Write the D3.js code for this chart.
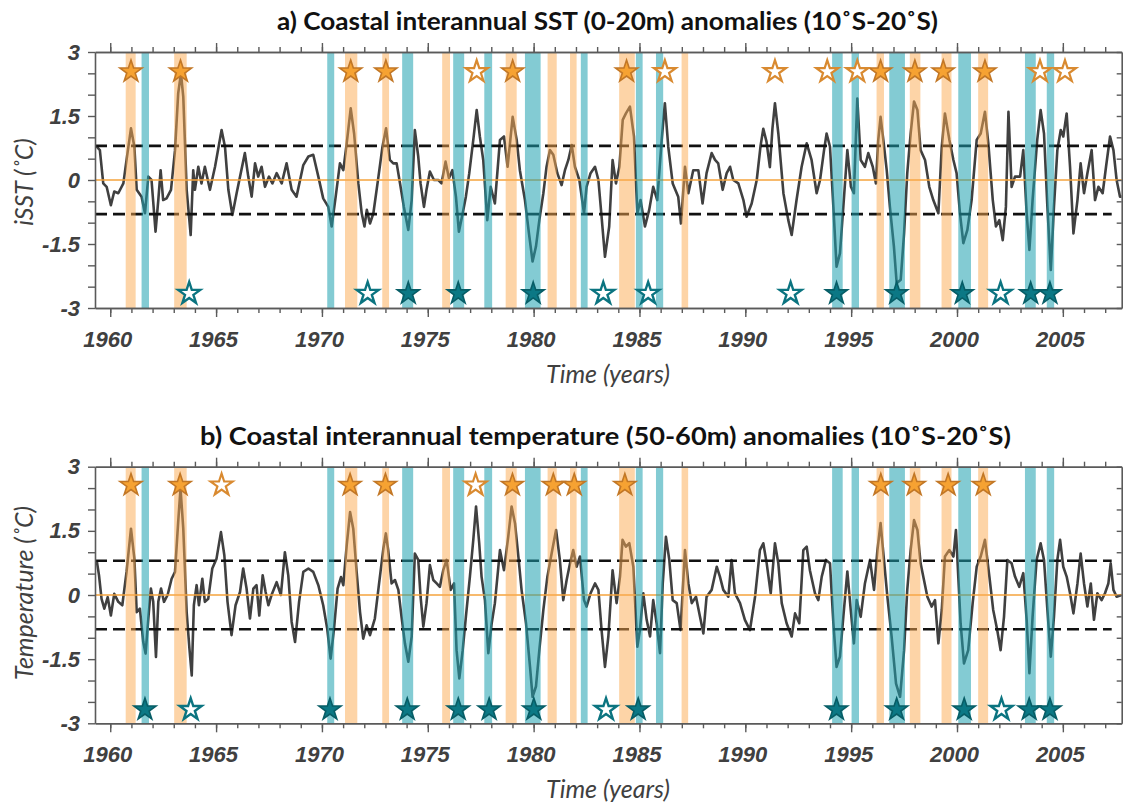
<!DOCTYPE html>
<html>
<head>
<meta charset="utf-8">
<script src="https://cdn.jsdelivr.net/npm/d3@7"></script>
<style>
  body { margin: 0; background: #fff; }
  svg { display: block; font-family: Lato, "Open Sans", sans-serif; }
</style>
</head>
<body>
<svg id="chart" width="1125" height="802"></svg>
<script>
// warm (orange) and cold (cyan) event periods, same in both panels
const warmBands = [[1960.73,1961.2],[1963.02,1963.61],[1971.09,1971.67],[1972.85,1973.17],[1975.68,1976.05],
  [1978.68,1979.2],[1980.66,1981.09],[1981.72,1982.03],[1984.04,1984.78],[1986.99,1987.3],
  [1996.2,1996.55],[1997.77,1998.27],[1999.27,1999.74],[2001.0,2001.47]];
const coldBands = [[1961.48,1961.83],[1970.25,1970.58],[1973.79,1974.31],[1976.2,1976.72],[1977.67,1978.04],
  [1979.59,1980.33],[1982.23,1982.55],[1984.83,1985.15],[1985.78,1986.12],[1994.1,1994.6],
  [1995.02,1995.37],[1996.8,1997.54],[2000.06,2000.66],[2003.21,2003.72],[2004.24,2004.59]];

// panel a : iSST (0-20m), [year, degC]
const sstSeries = [
  [1959.36,0.78],[1959.51,0.7],[1959.67,-0.08],[1959.83,-0.16],[1960.03,-0.59],[1960.19,-0.27],[1960.38,-0.31],
  [1960.62,-0.08],[1960.77,0.47],[1960.98,1.21],[1961.14,0.78],[1961.25,-0.23],[1961.48,-0.39],[1961.64,-0.78],
  [1961.8,0.08],[1961.95,0],[1962.14,-1.21],[1962.27,-0.47],[1962.38,0.23],[1962.5,-0.47],[1962.66,-0.43],
  [1962.87,-0.23],[1963.06,0.7],[1963.21,2.03],[1963.34,2.5],[1963.45,1.95],[1963.61,-0.23],[1963.8,-1.29],
  [1963.92,0.23],[1964.0,-0.23],[1964.16,0.31],[1964.31,-0.08],[1964.47,0.31],[1964.71,-0.23],[1964.95,0.31],
  [1965.26,1.17],[1965.42,0.78],[1965.58,-0.23],[1965.77,-0.82],[1965.97,-0.31],[1966.36,0.63],[1966.52,0.08],
  [1966.68,-0.39],[1966.84,0.39],[1966.99,0.08],[1967.15,0.31],[1967.31,-0.16],[1967.5,0.08],[1967.66,-0.08],
  [1967.86,0.16],[1968.1,-0.08],[1968.33,0.39],[1968.57,-0.23],[1968.8,-0.39],[1969.12,0.35],[1969.36,0.55],
  [1969.59,0.59],[1969.83,0.08],[1970.06,-0.43],[1970.3,-0.63],[1970.46,-1.09],[1970.65,-0.39],[1970.85,0.39],
  [1971.01,0.23],[1971.17,0.86],[1971.36,1.68],[1971.52,1.09],[1971.72,-0.08],[1971.88,-0.78],[1972.01,-1.09],
  [1972.12,-0.7],[1972.27,-1.02],[1972.43,-0.78],[1972.67,0.08],[1972.86,0.78],[1973.03,1.21],[1973.21,0.47],
  [1973.37,0.39],[1973.53,0.39],[1973.69,-0.08],[1973.87,-0.63],[1974.08,-1.17],[1974.24,-0.47],[1974.39,1.17],
  [1974.55,0.55],[1974.66,-0.08],[1974.82,-0.63],[1974.94,-0.23],[1975.1,0.2],[1975.29,0],[1975.5,0],
  [1975.65,-0.08],[1975.84,0.43],[1976.0,0.04],[1976.16,0.23],[1976.33,-0.39],[1976.47,-1.21],[1976.65,-0.78],
  [1976.8,-0.39],[1976.96,0.16],[1977.15,0.94],[1977.31,1.64],[1977.46,1.02],[1977.62,0.47],[1977.81,-0.94],
  [1977.97,-0.16],[1978.17,-0.55],[1978.41,0.94],[1978.6,1.02],[1978.77,0.31],[1979.01,1.48],[1979.2,0.94],
  [1979.35,0.23],[1979.59,-0.47],[1979.78,-1.25],[1979.95,-1.91],[1980.11,-1.56],[1980.27,-0.94],[1980.46,-0.31],
  [1980.61,0.31],[1980.77,0.7],[1980.93,0.59],[1981.12,0.16],[1981.32,-0.12],[1981.48,0.23],[1981.64,0.47],
  [1981.8,0.82],[1981.95,0.31],[1982.16,0],[1982.38,-0.78],[1982.5,-0.16],[1982.69,0.16],[1982.9,0.31],
  [1983.06,0],[1983.21,-0.86],[1983.37,-1.8],[1983.57,-1.09],[1983.73,0.47],[1983.89,-0.08],[1984.05,0.31],
  [1984.21,1.41],[1984.36,1.56],[1984.55,1.72],[1984.74,1.02],[1984.9,-0.78],[1985.05,-0.47],[1985.26,-1.09],
  [1985.46,-0.7],[1985.65,-0.16],[1985.84,-0.47],[1986.05,0.94],[1986.2,1.8],[1986.36,0.78],[1986.57,-0.08],
  [1986.83,-0.39],[1986.96,-1.02],[1987.15,0.31],[1987.31,-0.31],[1987.54,0.23],[1987.78,0.23],[1987.98,-0.55],
  [1988.17,0.16],[1988.41,0.63],[1988.57,0.47],[1988.72,0.39],[1988.93,-0.23],[1989.12,0.16],[1989.28,0.31],
  [1989.43,0],[1989.67,-0.08],[1989.91,-0.47],[1990.06,-0.86],[1990.3,-0.55],[1990.54,0],[1990.72,0.8],
  [1990.85,1.2],[1991.0,0.9],[1991.16,0.3],[1991.28,1.2],[1991.4,1.8],[1991.56,1.09],[1991.8,-0.31],
  [1992.03,-0.94],[1992.19,-1.29],[1992.42,-0.47],[1992.66,0.31],[1992.9,0.86],[1993.13,0.47],[1993.37,-0.31],
  [1993.53,0],[1993.72,0.7],[1993.84,1.09],[1994.0,0.78],[1994.16,-0.63],[1994.31,-2.03],[1994.47,-1.72],
  [1994.63,-0.63],[1994.82,0.7],[1994.99,-0.16],[1995.13,-0.31],[1995.29,1.91],[1995.45,0.47],[1995.65,0.31],
  [1995.81,0.63],[1996.02,0.31],[1996.17,-0.08],[1996.28,0.94],[1996.39,1.48],[1996.52,0.94],[1996.68,0.23],
  [1996.83,-0.63],[1997.02,-1.56],[1997.15,-2.42],[1997.34,-2.34],[1997.5,-1.25],[1997.65,0.16],[1997.81,1.09],
  [1997.97,1.84],[1998.13,1.64],[1998.28,0.7],[1998.49,0.47],[1998.69,-0.16],[1998.88,-0.47],[1999.12,-0.78],
  [1999.28,0.78],[1999.43,1.56],[1999.64,0.94],[1999.83,0.47],[1999.98,0.16],[2000.14,-0.78],[2000.3,-1.48],
  [2000.49,-1.17],[2000.69,-0.47],[2000.93,0.94],[2001.12,1.09],[2001.32,1.6],[2001.48,0.86],[2001.69,-0.47],
  [2001.84,-1.09],[2002.0,-0.94],[2002.16,-1.41],[2002.31,-0.63],[2002.43,1.6],[2002.58,-0.16],[2002.74,0.08],
  [2002.98,0.08],[2003.13,0.7],[2003.29,-0.78],[2003.42,-1.64],[2003.57,-0.47],[2003.79,0.94],[2003.95,1.64],
  [2004.11,1.09],[2004.27,-0.63],[2004.43,-2.11],[2004.58,-0.63],[2004.74,0.7],[2004.9,1.17],[2005.02,1.02],
  [2005.18,1.56],[2005.34,0.31],[2005.5,-1.25],[2005.69,-0.47],[2005.84,0.39],[2006.0,-0.31],[2006.16,0.16],
  [2006.36,0.7],[2006.52,-0.47],[2006.68,-0.16],[2006.88,-0.31],[2007.04,0.31],[2007.23,1.02],[2007.39,0.7],
  [2007.54,0],[2007.7,-0.39],[2007.78,-0.39]
];

// panel b : temperature (50-60m), [year, degC]
const tempSeries = [
  [1959.36,0.81],[1959.47,0.46],[1959.59,-0.09],[1959.72,-0.32],[1959.88,-0.05],[1960.03,-0.48],[1960.19,0.03],
  [1960.38,-0.16],[1960.57,-0.24],[1960.77,0.54],[1960.98,1.55],[1961.14,0.85],[1961.25,-0.4],[1961.4,-0.32],
  [1961.56,-1.1],[1961.67,-1.37],[1961.8,-0.55],[1961.92,0.15],[1962.03,-0.16],[1962.16,-1.45],[1962.27,-0.16],
  [1962.4,0.15],[1962.54,-0.16],[1962.71,0],[1962.9,0.38],[1963.06,0.54],[1963.21,1.71],[1963.32,2.49],
  [1963.45,1.55],[1963.61,-0.4],[1963.74,-1.25],[1963.85,-1.88],[1963.95,-0.24],[1964.08,0.23],[1964.19,-0.24],
  [1964.35,0.38],[1964.47,-0.16],[1964.63,-0.09],[1964.82,0.62],[1965.02,0.85],[1965.23,1.47],[1965.39,0.93],
  [1965.54,-0.16],[1965.73,-0.94],[1965.92,-0.24],[1966.13,0.07],[1966.28,0.62],[1966.44,0.15],[1966.6,-0.55],
  [1966.76,0.15],[1966.91,0.23],[1967.04,-0.48],[1967.2,0.46],[1967.34,0.07],[1967.47,-0.24],[1967.62,0],
  [1967.86,0.3],[1968.06,0],[1968.25,1.0],[1968.41,0.46],[1968.57,-0.63],[1968.73,-1.1],[1968.92,-0.16],
  [1969.12,0.54],[1969.36,0.62],[1969.59,0.54],[1969.83,0.23],[1970.06,-0.24],[1970.25,-0.79],[1970.41,-1.49],
  [1970.57,-0.79],[1970.74,0.15],[1970.9,0.42],[1971.01,0.23],[1971.17,1.16],[1971.33,1.94],[1971.48,1.55],
  [1971.64,0.54],[1971.8,-0.4],[1971.95,-1.02],[1972.11,-0.71],[1972.27,-0.94],[1972.5,-0.55],[1972.69,0.23],
  [1972.9,1.08],[1973.02,1.44],[1973.13,1.05],[1973.29,0.27],[1973.45,0.35],[1973.61,0.12],[1973.76,-0.51],
  [1973.92,-1.13],[1974.08,-1.56],[1974.24,-0.97],[1974.39,0.97],[1974.55,0.82],[1974.66,-0.04],[1974.79,-0.74],
  [1974.94,-0.19],[1975.1,0.7],[1975.26,0.35],[1975.42,0.27],[1975.57,0.19],[1975.73,0.58],[1975.89,0.82],
  [1976.08,0.12],[1976.24,0.27],[1976.36,-1.29],[1976.49,-1.95],[1976.65,-1.29],[1976.8,-0.51],[1976.99,0.43],
  [1977.15,1.29],[1977.28,2.07],[1977.43,1.21],[1977.54,0.43],[1977.7,-0.12],[1977.86,-1.36],[1978.02,-0.66],
  [1978.17,-0.19],[1978.41,1.05],[1978.6,0.58],[1978.8,1.36],[1978.96,2.07],[1979.12,1.68],[1979.28,0.9],
  [1979.43,0.12],[1979.64,-0.66],[1979.83,-1.68],[1979.95,-2.38],[1980.11,-2.14],[1980.27,-1.29],[1980.46,-0.35],
  [1980.65,0.43],[1980.85,0.97],[1981.06,1.52],[1981.24,0.82],[1981.4,-0.12],[1981.56,0.35],[1981.72,0.74],
  [1981.87,1.05],[1982.03,0.66],[1982.19,0.9],[1982.38,-0.12],[1982.5,-0.27],[1982.69,0.04],[1982.9,0.27],
  [1983.06,0.12],[1983.21,-0.82],[1983.37,-1.68],[1983.53,-0.97],[1983.73,0.58],[1983.92,-0.19],[1984.08,0.43],
  [1984.2,1.29],[1984.36,1.13],[1984.52,1.21],[1984.71,0.66],[1984.9,-1.21],[1985.02,-0.82],[1985.18,0.04],
  [1985.34,-0.58],[1985.5,-0.97],[1985.65,-0.12],[1985.81,-0.66],[1985.97,-1.36],[1986.1,0.27],[1986.25,1.36],
  [1986.41,0.82],[1986.57,-0.12],[1986.76,-0.19],[1986.94,-0.82],[1987.15,1.05],[1987.31,0.27],[1987.47,-0.19],
  [1987.67,-0.04],[1987.86,-0.51],[1988.02,-0.9],[1988.17,-0.04],[1988.41,0.12],[1988.65,0.66],[1988.8,0.43],
  [1988.96,0.12],[1989.2,-0.04],[1989.35,0.82],[1989.51,0.04],[1989.75,-0.19],[1989.98,-0.58],[1990.22,-0.82],
  [1990.46,-0.04],[1990.69,1.05],[1990.85,1.21],[1991.01,0.74],[1991.2,0.04],[1991.4,1.21],[1991.56,0.74],
  [1991.72,-0.19],[1991.95,-0.66],[1992.19,-0.97],[1992.35,-0.43],[1992.55,-0.66],[1992.74,1.05],[1992.9,1.13],
  [1993.05,0.58],[1993.29,0.04],[1993.45,-0.12],[1993.61,0.43],[1993.81,0.82],[1994.0,0.74],[1994.16,-0.66],
  [1994.31,-1.68],[1994.47,-1.44],[1994.63,-0.51],[1994.82,0.55],[1994.98,-0.35],[1995.13,-1.13],[1995.26,-0.12],
  [1995.45,-0.51],[1995.65,0.27],[1995.89,0.82],[1996.08,0.12],[1996.24,1.05],[1996.39,1.68],[1996.55,0.82],
  [1996.71,-0.04],[1996.91,-0.97],[1997.12,-2.07],[1997.31,-2.38],[1997.5,-1.29],[1997.65,0.12],[1997.81,1.05],
  [1997.97,1.75],[1998.13,1.52],[1998.28,0.74],[1998.44,0.35],[1998.6,-0.04],[1998.8,-0.27],[1998.96,-0.12],
  [1999.12,-1.13],[1999.28,-0.35],[1999.43,0.9],[1999.64,1.05],[1999.83,0.9],[1999.95,1.52],[2000.06,0.43],
  [2000.17,-0.66],[2000.33,-1.6],[2000.53,-1.29],[2000.74,-0.19],[2000.93,0.66],[2001.12,0.9],[2001.32,1.29],
  [2001.53,0.43],[2001.71,-0.35],[2001.9,-0.82],[2002.06,-1.29],[2002.22,-0.51],[2002.38,0.82],[2002.58,0.74],
  [2002.74,0.43],[2002.94,0.19],[2003.13,0.51],[2003.29,-0.58],[2003.42,-1.83],[2003.57,-0.51],[2003.76,0.82],
  [2003.95,1.21],[2004.11,0.82],[2004.27,-0.35],[2004.43,-1.44],[2004.58,-0.51],[2004.74,0.82],[2004.87,1.29],
  [2005.02,0.66],[2005.18,0.43],[2005.34,0.04],[2005.5,-0.43],[2005.69,0.27],[2005.84,0.97],[2006.0,0.27],
  [2006.16,-0.27],[2006.32,0.27],[2006.47,-0.58],[2006.63,0.04],[2006.83,-0.12],[2006.99,0.04],[2007.15,0.27],
  [2007.26,0.74],[2007.39,0.12],[2007.54,-0.04],[2007.78,0]
];

// star markers (year of the event)
const sstWarmFilled = [1960.98,1963.32,1971.36,1973.02,1979.01,1984.39,1996.39,1998.01,1999.35,2001.32];
const sstWarmOpen   = [1977.31,1986.2,1991.4,1993.87,1995.29,2003.92,2005.1];
const sstColdFilled = [1974.08,1976.44,1979.98,1994.31,1997.15,2000.25,2003.48,2004.39];
const sstColdOpen   = [1963.73,1972.16,1983.29,1985.41,1992.14,2002.06];

const tempWarmFilled = [1960.98,1963.3,1971.33,1973.0,1979.0,1980.93,1981.92,1984.31,1996.4,1997.98,1999.58,2001.24];
const tempWarmOpen   = [1965.26,1977.26];
const tempColdFilled = [1961.64,1970.38,1974.03,1976.44,1977.9,1980.01,1984.94,1994.31,1997.15,2000.34,2003.41,2004.39];
const tempColdOpen   = [1963.8,1983.42,2002.1];

const yearTicks = d3.range(1960, 2008);
const yearLabels = [1960, 1965, 1970, 1975, 1980, 1985, 1990, 1995, 2000, 2005];
const valueTicks = d3.range(-3, 3.01, 0.5);
const valueLabels = [-3, -1.5, 0, 1.5, 3];
const threshold = 0.8;

const svg = d3.select("#chart");
const left = 95, right = 1121.7;
const x = d3.scaleLinear().domain([1959.28, 2007.78]).range([left, right]);

const axisColor = "#5a5a5a", labelColor = "#404040";
const starSize = 150;

function drawPanel(cfg) {
  const y = d3.scaleLinear().domain([-3, 3]).range([cfg.bottom, cfg.top]);
  const g = svg.append("g");
  const clipId = "clip" + cfg.id;
  svg.append("clipPath").attr("id", clipId).append("rect")
    .attr("x", left).attr("y", cfg.top).attr("width", right - left).attr("height", cfg.bottom - cfg.top);

  // title
  svg.append("text").attr("x", cfg.titleX).attr("y", cfg.top - 22)
    .attr("font-size", 25).attr("font-weight", 700).attr("fill", "#111")
    .attr("textLength", cfg.titleWidth).attr("lengthAdjust", "spacingAndGlyphs")
    .text(cfg.title);

  // anomaly series
  const line = d3.line().x(d => x(d[0])).y(d => y(d[1]));
  g.append("path").datum(cfg.series).attr("clip-path", `url(#${clipId})`)
    .attr("d", line).attr("fill", "none").attr("stroke", "#404040").attr("stroke-width", 2.6)
    .attr("stroke-linejoin", "round");

  // zero and threshold lines
  g.append("line").attr("x1", left).attr("x2", right).attr("y1", y(0)).attr("y2", y(0))
    .attr("stroke", "#f5a33c").attr("stroke-width", 1.6);
  [threshold, -threshold].forEach(t => {
    g.append("line").attr("x1", left).attr("x2", right - 10).attr("y1", y(t)).attr("y2", y(t))
      .attr("stroke", "#111").attr("stroke-width", 2.6).attr("stroke-dasharray", "12,6");
  });

  // event bands, laid over the line
  g.selectAll(".warm").data(warmBands).enter().append("rect")
    .attr("x", d => x(d[0])).attr("width", d => x(d[1]) - x(d[0]))
    .attr("y", cfg.top).attr("height", cfg.bottom - cfg.top)
    .attr("fill", "rgb(251,170,80)").attr("fill-opacity", 0.5);
  g.selectAll(".cold").data(coldBands).enter().append("rect")
    .attr("x", d => x(d[0])).attr("width", d => x(d[1]) - x(d[0]))
    .attr("y", cfg.top).attr("height", cfg.bottom - cfg.top)
    .attr("fill", "rgb(30,160,175)").attr("fill-opacity", 0.55);

  // stars
  const star = d3.symbol().type(d3.symbolStar).size(starSize);
  function stars(list, yv, fill, stroke, sw) {
    g.append("g").selectAll("path").data(list).enter().append("path")
      .attr("d", star).attr("transform", d => `translate(${x(d)},${y(yv)})`)
      .attr("fill", fill).attr("stroke", stroke).attr("stroke-width", sw).attr("stroke-linejoin", "miter");
  }
  stars(cfg.warmFilled, cfg.starTop, "#f6a232", "#c27726", 1.6);
  stars(cfg.warmOpen, cfg.starTop, "#fff", "#d98a30", 2.2);
  stars(cfg.coldFilled, cfg.starBottom, "#0b7885", "#075d66", 1.6);
  stars(cfg.coldOpen, cfg.starBottom, "#fff", "#0b7480", 2.4);

  // axes
  const tickFont = sel => sel.selectAll("text").attr("fill", labelColor).attr("font-size", 22)
    .attr("font-weight", 700).attr("font-style", "italic");
  const styleAxis = sel => {
    sel.select(".domain").attr("stroke", axisColor).attr("stroke-width", 1.6);
    sel.selectAll(".tick line").attr("stroke", axisColor).attr("stroke-width", 1.4);
  };

  svg.append("g").attr("transform", `translate(0,${cfg.bottom})`)
    .call(d3.axisBottom(x).tickValues(yearTicks).tickSize(5).tickSizeOuter(0).tickFormat(""))
    .call(styleAxis);
  svg.append("g").attr("transform", `translate(0,${cfg.bottom})`)
    .call(d3.axisBottom(x).tickValues(yearLabels).tickSize(9).tickSizeOuter(0).tickPadding(14).tickFormat(d3.format("d")))
    .call(styleAxis).call(tickFont)
    .call(a => a.selectAll("text").attr("dx", -3));
  svg.append("g").attr("transform", `translate(0,${cfg.top})`)
    .call(d3.axisTop(x).tickValues(yearTicks).tickSize(5).tickSizeOuter(0).tickFormat(""))
    .call(styleAxis);
  svg.append("g").attr("transform", `translate(0,${cfg.top})`)
    .call(d3.axisTop(x).tickValues(yearLabels).tickSize(9).tickSizeOuter(0).tickFormat(""))
    .call(styleAxis);
  svg.append("g").attr("transform", `translate(${left},0)`)
    .call(d3.axisLeft(y).tickValues(valueTicks).tickSize(7).tickSizeOuter(0).tickPadding(8)
      .tickFormat(d => valueLabels.includes(d) ? String(d) : ""))
    .call(styleAxis).call(tickFont);
  svg.append("g").attr("transform", `translate(${right},0)`)
    .call(d3.axisRight(y).tickValues(valueTicks).tickSize(-5).tickSizeOuter(0).tickFormat(""))
    .call(styleAxis);

  // axis titles
  svg.append("text").attr("transform", `translate(33,${cfg.yLabelMid}) rotate(-90)`)
    .attr("text-anchor", "middle").attr("font-size", 25).attr("font-style", "italic").attr("fill", labelColor)
    .text(cfg.yLabel);
  svg.append("text").attr("x", 608).attr("y", cfg.bottom + 75)
    .attr("text-anchor", "middle").attr("font-size", 25).attr("font-style", "italic").attr("fill", labelColor)
    .text("Time (years)");
}

drawPanel({
  id: "a", top: 52, bottom: 308, titleX: 277, titleWidth: 661, yLabelMid: 182,
  title: "a) Coastal interannual SST (0-20m) anomalies (10˚S-20˚S)",
  yLabel: "iSST (˚C)", series: sstSeries,
  warmFilled: sstWarmFilled, warmOpen: sstWarmOpen, coldFilled: sstColdFilled, coldOpen: sstColdOpen,
  starTop: 2.54, starBottom: -2.66
});
drawPanel({
  id: "b", top: 466.7, bottom: 723.3, titleX: 200, titleWidth: 811, yLabelMid: 593,
  title: "b) Coastal interannual temperature (50-60m) anomalies (10˚S-20˚S)",
  yLabel: "Temperature (˚C)", series: tempSeries,
  warmFilled: tempWarmFilled, warmOpen: tempWarmOpen, coldFilled: tempColdFilled, coldOpen: tempColdOpen,
  starTop: 2.57, starBottom: -2.68
});
</script>
</body>
</html>
